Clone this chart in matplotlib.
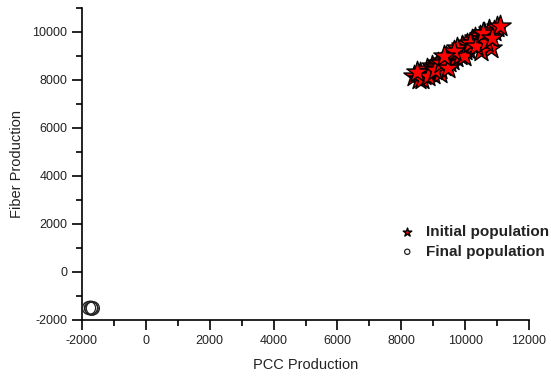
import matplotlib
matplotlib.use("Agg")
import matplotlib.pyplot as plt
from matplotlib.ticker import MultipleLocator

plt.rcParams['font.family'] = ['Liberation Sans', 'DejaVu Sans']
plt.rcParams['axes.unicode_minus'] = False

init_x = [8400, 8550, 8600, 8700, 8800, 8900, 8950, 9000, 9100, 9150,
          9200, 9300, 9350, 9400, 9500, 9550, 9600, 9650, 9700, 9800,
          9850, 9900, 10000, 10050, 10100, 10200, 10250, 10300, 10400, 10450,
          10500, 10600, 10700, 10750, 10800, 10900, 11000, 11100, 10500, 9200,
          8650, 8850, 9050, 9250, 9450, 9750, 9950, 10150, 10350, 10650,
          8500, 9650, 10550, 9350, 10850]
init_y = [8150, 8050, 8300, 8200, 8450, 8350, 8600, 8250, 8550, 8700,
          8450, 8800, 8600, 8950, 8750, 9000, 8850, 9150, 8950, 9200,
          9050, 9400, 9250, 9500, 9300, 9650, 9450, 9750, 9600, 9850,
          9700, 9950, 9800, 10100, 9350, 10050, 10200, 10250, 9200, 8300,
          8050, 8150, 8400, 8700, 8500, 9350, 9000, 9550, 9400, 9600,
          8350, 9200, 9950, 9000, 9750]

final_x = [-1780, -1720, -1660, -1700]
final_y = [-1500, -1490, -1510, -1530]

fig = plt.figure(figsize=(5.51, 3.83), dpi=100)
ax = fig.add_axes([82/551, 1-320/383, (529-82)/551, (320-8)/383])

ax.scatter(init_x, init_y, marker='*', s=260, c='#ff0000', edgecolors='black',
           linewidths=1.0, label='Initial population', zorder=3)
ax.scatter(final_x, final_y, marker='o', s=90, facecolors='none', edgecolors='#222222',
           linewidths=0.9, label='Final population', zorder=3)

ax.set_xlim(-2000, 12000)
ax.set_ylim(-2000, 11000)
ax.xaxis.set_major_locator(MultipleLocator(2000))
ax.xaxis.set_minor_locator(MultipleLocator(1000))
ax.yaxis.set_major_locator(MultipleLocator(2000))
ax.yaxis.set_minor_locator(MultipleLocator(1000))
for s in ['top', 'right']:
    ax.spines[s].set_visible(False)
for s in ['left', 'bottom']:
    ax.spines[s].set_linewidth(1.2)
ax.tick_params(which='major', direction='out', length=7, width=1.2, labelsize=9,
               colors='black', labelcolor='#222222')
ax.tick_params(which='minor', direction='out', length=4, width=1.2)

ax.set_xlabel('PCC Production', fontsize=10.5, labelpad=8, color='#222222')
ax.set_ylabel('Fiber Production', fontsize=10.5, labelpad=6, color='#222222')

leg = ax.legend(loc='upper left', bbox_to_anchor=(0.69, 0.33), frameon=False,
                markerscale=0.4, prop={'weight': 'bold', 'size': 11},
                handletextpad=0.6, handlelength=1.2, borderpad=0, labelspacing=0.4)
for t in leg.get_texts():
    t.set_color('#222222')

fig.savefig('out.png', dpi=100)
